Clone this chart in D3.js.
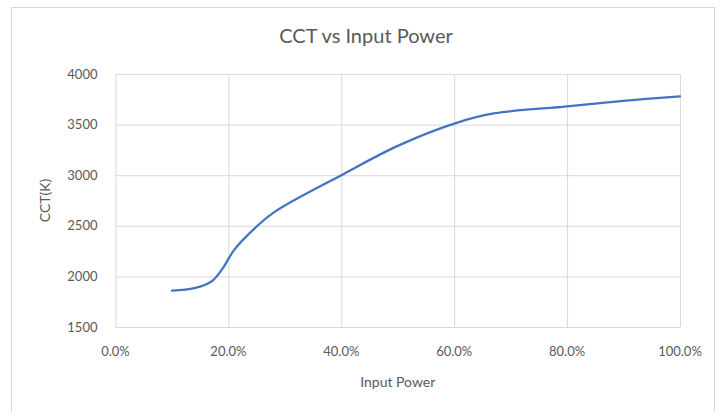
<!DOCTYPE html>
<html>
<head>
<meta charset="utf-8">
<script src="https://cdn.jsdelivr.net/npm/d3@7"></script>
<style>
body { margin: 0; background: #fff; }
svg { display: block; font-family: Lato, "Open Sans", sans-serif; }
</style>
</head>
<body>
<div id="chart"></div>
<script>
// values (input power %, CCT in K)
var power = [10, 14, 17, 19, 21, 24, 28, 40, 50, 60, 67, 80, 90, 100];
var cct = [1860, 1885, 1950, 2080, 2260, 2440, 2630, 3000, 3290, 3510, 3610, 3680, 3735, 3780];
var xTicks = [0, 20, 40, 60, 80, 100];
var yTicks = [1500, 2000, 2500, 3000, 3500, 4000];

var W = 726, H = 412;
var margin = {top: 74, right: 46, bottom: 85, left: 115.5},
    width = W - margin.left - margin.right,
    height = H - margin.top - margin.bottom;

var svg = d3.select("#chart").append("svg")
    .attr("width", W)
    .attr("height", H);

// chart border
svg.append("rect")
    .attr("x", 11.5).attr("y", 7.5)
    .attr("width", 703).attr("height", 420)
    .attr("fill", "none")
    .attr("stroke", "#d9d9d9");

var g = svg.append("g")
    .attr("transform", "translate(" + margin.left + "," + margin.top + ")");

var x = d3.scaleLinear().domain([0, 100]).range([0, width]);
var y = d3.scaleLinear().domain([1500, 4000]).range([height, 0]);

// grid lines
g.append("g")
    .attr("transform", "translate(0," + height + ")")
    .call(d3.axisBottom(x).tickValues(xTicks).tickSize(-height).tickFormat(""))
    .call(function(a) { a.select(".domain").remove(); })
    .selectAll("line").attr("stroke", "#d9d9d9");
g.append("g")
    .call(d3.axisLeft(y).tickValues(yTicks).tickSize(-width).tickFormat(""))
    .call(function(a) { a.select(".domain").remove(); })
    .selectAll("line").attr("stroke", "#d9d9d9");

// tick labels
g.selectAll(".xlab")
    .data(xTicks)
    .enter().append("text")
    .attr("x", function(d) { return x(d); })
    .attr("y", height + 29)
    .attr("text-anchor", "middle")
    .attr("font-size", 13)
    .attr("fill", "#595959")
    .text(function(d) { return d.toFixed(1) + "%"; });
g.selectAll(".ylab")
    .data(yTicks)
    .enter().append("text")
    .attr("x", -18)
    .attr("y", function(d) { return y(d); })
    .attr("dy", "0.35em")
    .attr("text-anchor", "end")
    .attr("font-size", 13)
    .attr("fill", "#595959")
    .text(function(d) { return d; });

// the line
var pts = power.map(function(p, i) { return [p, cct[i]]; });
var line = d3.line()
    .x(function(d) { return x(d[0]); })
    .y(function(d) { return y(d[1]); })
    .curve(d3.curveCatmullRom.alpha(0.5));
g.append("path")
    .datum(pts)
    .attr("fill", "none")
    .attr("stroke", "#4472c4")
    .attr("stroke-width", 2.25)
    .attr("stroke-linecap", "round")
    .attr("d", line);

// titles
svg.append("text")
    .attr("x", 366)
    .attr("y", 43)
    .attr("text-anchor", "middle")
    .attr("font-size", 20)
    .attr("fill", "#595959")
    .text("CCT vs Input Power");
svg.append("text")
    .attr("x", margin.left + width / 2)
    .attr("y", 387)
    .attr("text-anchor", "middle")
    .attr("font-size", 14)
    .attr("fill", "#595959")
    .text("Input Power");
svg.append("text")
    .attr("transform", "rotate(-90)")
    .attr("x", -(margin.top + height / 2))
    .attr("y", 50)
    .attr("text-anchor", "middle")
    .attr("font-size", 14)
    .attr("fill", "#595959")
    .text("CCT(K)");
</script>
</body>
</html>
